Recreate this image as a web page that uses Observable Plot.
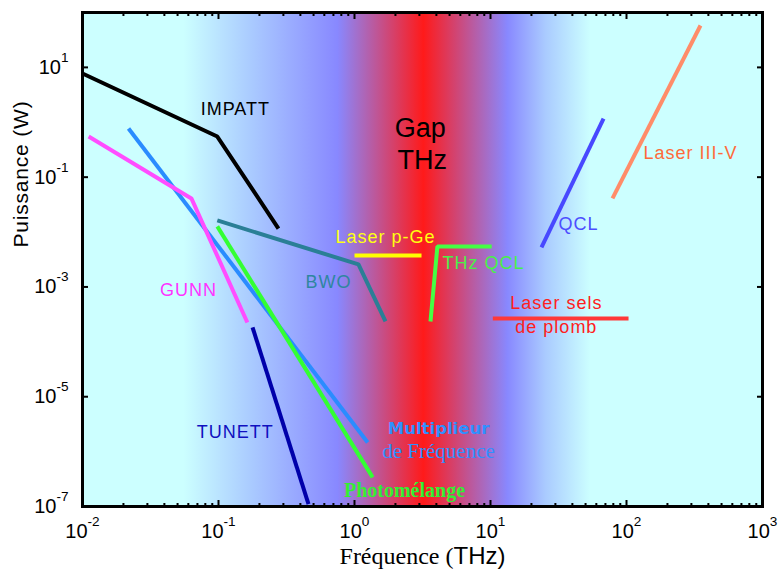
<!DOCTYPE html>
<html>
<head>
<meta charset="utf-8">
<script src="https://cdn.jsdelivr.net/npm/d3@7"></script>
<script src="https://cdn.jsdelivr.net/npm/@observablehq/plot@0.6"></script>
<style>
  html, body { margin: 0; padding: 0; background: #ffffff; }
  #chart svg { display: block; }
</style>
</head>
<body>
<div id="chart"></div>
<script>
// ---- Data (frequency in THz, power in W) ----
const impatt       = [[0.01, 7.74], [0.098, 0.55], [0.276, 0.0116]];
const multiplieur  = [[0.0218, 0.77], [1.25, 1.47e-6]];
const gunn         = [[0.0111, 0.55], [0.0632, 0.041], [0.163, 2.25e-4]];
const tunett       = [[0.178, 1.83e-4], [0.459, 1.1e-7]];
const photomelange = [[0.098, 0.0127], [1.36, 3.39e-7]];
const bwo          = [[0.098, 0.0163], [1.07, 2.57e-3], [1.69, 2.35e-4]];
const laserPGe     = [[1.0, 3.75e-3], [3.11, 3.75e-3]];
const thzQcl       = [[3.62, 2.35e-4], [4.07, 5.47e-3], [10.2, 5.47e-3]];
const laserSels    = [[10.4, 2.67e-4], [103.5, 2.67e-4]];
const qcl          = [[23.7, 5.25e-3], [67.8, 1.17]];
const laserIIIV    = [[78.9, 0.041], [350, 58]];

const labelText = ["IMPATT", "Gap", "THz", "Laser p-Ge", "BWO", "THz QCL", "Laser sels", "de plomb",
                   "QCL", "Laser III-V", "GUNN", "TUNETT", "Multiplieur", "de Fréquence", "Photomélange"];
const labelF    = [0.133, 3.05, 3.15, 1.69, 0.644, 8.9, 30.5, 30.5, 44.4, 296, 0.0601, 0.133, 4.15, 4.15, 2.33];
const labelP    = [1.71, 0.77, 0.20, 7.98e-3, 1.21e-3, 2.68e-3, 5.0e-4, 1.83e-4, 0.0137, 0.27, 8.6e-4, 2.24e-6, 2.65e-6, 1.01e-6, 1.96e-7];

// background gradient stops (frequency, colour)
const gapStopF = [0.01, 0.0553, 0.172, 0.75, 3.21, 13.3, 25.4, 54.3, 1000];
const gapStopC = ["#ccffff", "#ccffff", "#aacbff", "#8888ff", "#ff1a1a", "#8888ff", "#aacbff", "#ccffff", "#ccffff"];

const xMajor = [1e-2, 1e-1, 1e0, 1e1, 1e2, 1e3];
const xMinor = [-2, -1, 0, 1, 2].flatMap(e => [2,3,4,5,6,7,8,9].map(k => k * Math.pow(10, e)));
const yMajor = [1e-7, 1e-5, 1e-3, 1e-1, 1e1];

// ---- styles ----
const W = 779, H = 571, mL = 82, mR = 17, mT = 12, mB = 65;
const series = [
  {pts: impatt, stroke: "#000000"},
  {pts: multiplieur, stroke: "#2a8cff"},
  {pts: gunn, stroke: "#ff4dff"},
  {pts: tunett, stroke: "#0000aa"},
  {pts: photomelange, stroke: "#33ff33"},
  {pts: bwo, stroke: "#2a7f96"},
  {pts: laserPGe, stroke: "#ffff00"},
  {pts: thzQcl, stroke: "#44ff44"},
  {pts: laserSels, stroke: "#ff3838"},
  {pts: qcl, stroke: "#4848ff"},
  {pts: laserIIIV, stroke: "#ff8c69"}
];
const labelStyle = {
  "IMPATT": {fill: "#000000"},
  "Gap": {fill: "#000000", size: 27, ls: 0},
  "THz": {fill: "#000000", size: 27, ls: 0},
  "Laser p-Ge": {fill: "#ffff10"},
  "BWO": {fill: "#2f86a0"},
  "THz QCL": {fill: "#48f048"},
  "Laser sels": {fill: "#ff2020"},
  "de plomb": {fill: "#ff2020"},
  "QCL": {fill: "#4d4dff"},
  "Laser III-V": {fill: "#ff6a3a"},
  "GUNN": {fill: "#ff33ff"},
  "TUNETT": {fill: "#1010c0"},
  "Multiplieur": {fill: "#3090ff", weight: "bold", family: "DejaVu Sans, sans-serif", size: 16.5, ls: 0},
  "de Fréquence": {fill: "#3090ff", family: "Liberation Serif, serif", size: 21, ls: 0},
  "Photomélange": {fill: "#33ee33", weight: "bold", family: "Liberation Serif, serif", size: 20, ls: 0}
};
const labels = labelText.map((t, i) => ({t, f: labelF[i], p: labelP[i]}));
const fmtPow = d => `10^${Math.round(Math.log10(d))}`;

const marks = [
  Plot.frame({fill: "url(#thzgap)"}),
  ...series.map(s => Plot.line(s.pts, {
    x: d => d[0], y: d => d[1], stroke: s.stroke, strokeWidth: 4,
    strokeLinecap: "butt", strokeLinejoin: "miter"
  })),
  ...labels.map(l => {
    const st = labelStyle[l.t];
    return Plot.text([l], {
      x: "f", y: "p", text: "t", fill: st.fill,
      fontSize: st.size || 18, fontWeight: st.weight || "normal",
      fontFamily: st.family || "Liberation Sans, Arial, sans-serif",
      ariaDescription: "ls" + (st.ls === undefined ? 1 : st.ls)
    });
  }),
  // ticks (inward)
  Plot.axisX(xMajor, {anchor: "bottom", tickSize: 6, dy: -6, tickFormat: () => "", label: null, strokeWidth: 2}),
  Plot.axisX(xMinor, {anchor: "bottom", tickSize: 3, dy: -3, tickFormat: () => "", label: null, strokeWidth: 2}),
  Plot.axisX(xMajor, {anchor: "top", tickSize: 6, dy: 6, tickFormat: () => "", label: null, strokeWidth: 2}),
  Plot.axisX(xMinor, {anchor: "top", tickSize: 3, dy: 3, tickFormat: () => "", label: null, strokeWidth: 2}),
  Plot.axisY(yMajor, {anchor: "left", tickSize: 6, dx: 6, tickFormat: () => "", label: null, strokeWidth: 2}),
  Plot.axisY(yMajor, {anchor: "right", tickSize: 6, dx: -6, tickFormat: () => "", label: null, strokeWidth: 2}),
  // tick labels
  Plot.axisX(xMajor, {anchor: "bottom", tickSize: 0, tickPadding: 17, tickFormat: fmtPow, label: null, fontSize: 20}),
  Plot.axisY(yMajor, {anchor: "left", tickSize: 0, tickPadding: 14, tickFormat: fmtPow, label: null, fontSize: 20}),
  // axis titles
  Plot.text(["Fréquence (THz)"], {frameAnchor: "bottom", dy: 57, fontSize: 24, ariaDescription: "xtitle"}),
  Plot.text(["Puissance (W)"], {frameAnchor: "left", rotate: -90, dx: -61, dy: -12, fontSize: 21, ariaDescription: "ytitle"}),
  Plot.frame({stroke: "#000000", strokeWidth: 3})
];

const plot = Plot.plot({
  width: W, height: H,
  marginLeft: mL, marginRight: mR, marginTop: mT, marginBottom: mB,
  x: {type: "log", domain: [1e-2, 1e3]},
  y: {type: "log", domain: [1e-7, 1e2]},
  style: {background: "#ffffff", color: "#000000", fontFamily: "Liberation Sans, Arial, sans-serif"},
  marks
});

// gradient background built from the x scale
const xs = plot.scale("x");
const xScale = d3.scaleLog().domain(xs.domain).range(xs.range);
const svg = d3.select(plot);
const grad = svg.insert("defs", ":first-child").append("linearGradient")
  .attr("id", "thzgap").attr("gradientUnits", "userSpaceOnUse")
  .attr("x1", xs.range[0]).attr("x2", xs.range[1]).attr("y1", 0).attr("y2", 0);
gapStopF.forEach((f, i) => {
  grad.append("stop")
    .attr("offset", (xScale(f) - xs.range[0]) / (xs.range[1] - xs.range[0]))
    .attr("stop-color", gapStopC[i]);
});

// superscript exponents on tick labels
svg.selectAll("text").each(function () {
  const m = /^10\^(-?\d+)$/.exec(this.textContent);
  if (!m) return;
  const el = d3.select(this);
  el.text("10");
  el.append("tspan").attr("dy", -12).attr("font-size", "0.68em").text(m[1]);
});

// letter spacing on labels
svg.selectAll('g[aria-description="ls1"] text').attr("letter-spacing", "1px");

// mixed-font x title
svg.selectAll('g[aria-description="xtitle"] text').each(function () {
  const el = d3.select(this);
  el.text("");
  el.append("tspan").attr("font-family", "Liberation Serif, serif").text("Fréquence (");
  el.append("tspan").attr("font-family", "Liberation Sans, Arial, sans-serif").text("THz)");
});
svg.selectAll('g[aria-description="ytitle"] text').attr("letter-spacing", "0.8px");

document.getElementById("chart").appendChild(plot);
</script>
</body>
</html>
